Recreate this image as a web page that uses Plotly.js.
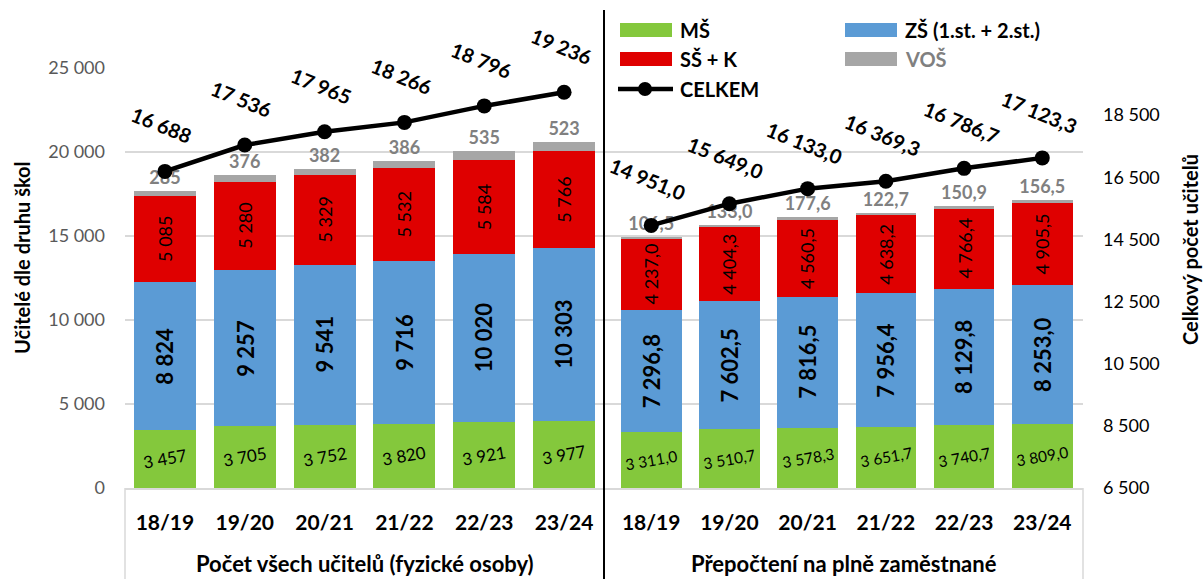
<!DOCTYPE html>
<html><head><meta charset="utf-8">
<script src="https://cdn.plot.ly/plotly-3.0.1.min.js"></script>
<style>html,body{margin:0;padding:0;background:#fff}</style>
</head><body>
<div id="chart" style="width:1203px;height:579px"></div>
<script>
const years = ['18/19','19/20','20/21','21/22','22/23','23/24'];
const groups = ['Počet všech učitelů (fyzické osoby)', 'Přepočtení na plně zaměstnané'];
const seriesNames = ['MŠ', 'ZŠ (1.st. + 2.st.)', 'SŠ + K', 'VOŠ', 'CELKEM'];

const msFyz = [3457, 3705, 3752, 3820, 3921, 3977];
const zsFyz = [8824, 9257, 9541, 9716, 10020, 10303];
const ssFyz = [5085, 5280, 5329, 5532, 5584, 5766];
const vosFyz = [285, 376, 382, 386, 535, 523];
const celkemFyz = [16688, 17536, 17965, 18266, 18796, 19236];

const msPrep = [3311.0, 3510.7, 3578.3, 3651.7, 3740.7, 3809.0];
const zsPrep = [7296.8, 7602.5, 7816.5, 7956.4, 8129.8, 8253.0];
const ssPrep = [4237.0, 4404.3, 4560.5, 4638.2, 4766.4, 4905.5];
const vosPrep = [106.5, 133.0, 177.6, 122.7, 150.9, 156.5];
const celkemPrep = [14951.0, 15649.0, 16133.0, 16369.3, 16786.7, 17123.3];

const rightTicks = [6500, 8500, 10500, 12500, 14500, 16500, 18500];

const FONT = 'Lato, "Open Sans", sans-serif';
const colors = {ms: '#84C83C', zs: '#5B9BD5', ss: '#DF0000', vos: '#A6A6A6', celkem: '#000000'};

function fmt(v, d) {
  const s = v.toFixed(d);
  const parts = s.split('.');
  const ip = parts[0].replace(/\B(?=(\d{3})+(?!\d))/g, ' ');
  return parts.length > 1 ? ip + ',' + parts[1] : ip;
}

const panels = [
  {xa: 'x', dec: 0, ms: msFyz, zs: zsFyz, ss: ssFyz, vos: vosFyz, celkem: celkemFyz, msSize: 17},
  {xa: 'x2', dec: 1, ms: msPrep, zs: zsPrep, ss: ssPrep, vos: vosPrep, celkem: celkemPrep, msSize: 15.5}
];

// Plot-area geometry helpers (pixels -> paper) for legend / decorations
const M = {l: 125, r: 120, t: 68, b: 91};
const W = 1203, H = 579, PW = W - M.l - M.r, PH = H - M.t - M.b;
const px = x => (x - M.l) / PW;
const py = y => (H - M.b - y) / PH;

const traces = [];
const annotations = [];
panels.forEach(p => {
  const bar = (name, vals, color) => ({
    type: 'bar', name: name, x: years, y: vals, xaxis: p.xa, yaxis: 'y',
    marker: {color: color, line: {width: 0}}, hoverinfo: 'skip', showlegend: false
  });
  traces.push(bar(seriesNames[0], p.ms, colors.ms));
  traces.push(bar(seriesNames[1], p.zs, colors.zs));
  traces.push(bar(seriesNames[2], p.ss, colors.ss));
  traces.push(Object.assign(bar(seriesNames[3], p.vos, colors.vos), {
    text: p.vos.map(v => fmt(v, p.dec)), textposition: 'outside', textangle: 0, cliponaxis: false,
    textfont: {family: FONT, color: '#808080', size: 18, weight: 'bold'}
  }));
  // segment value labels at the middle of each stacked segment, rotated like the original
  years.forEach((yr, i) => {
    const ms = p.ms[i], zs = p.zs[i], ss = p.ss[i];
    const lab = (val, mid, angle, font) => annotations.push({
      x: yr, y: mid, xref: p.xa, yref: 'y', text: fmt(val, p.dec), showarrow: false,
      xanchor: 'center', yanchor: 'middle', textangle: angle, font: font
    });
    lab(ms, ms / 2, -10, {family: FONT, size: p.msSize, color: '#000'});
    lab(zs, ms + zs / 2, -90, {family: FONT, size: 22, color: '#000', weight: 'bold'});
    lab(ss, ms + zs + ss / 2, -90, {family: FONT, size: 18, color: '#000'});
  });
});
panels.forEach(p => traces.push({
  type: 'scatter', mode: 'lines+markers', name: seriesNames[4], x: years, y: p.celkem,
  xaxis: p.xa, yaxis: 'y2',
  line: {color: colors.celkem, width: 4.5}, marker: {size: 15, color: colors.celkem},
  cliponaxis: false, hoverinfo: 'skip', showlegend: false
}));

panels.forEach(p => p.celkem.forEach((v, i) => annotations.push({
  x: years[i], y: v, xref: p.xa, yref: 'y2', text: fmt(v, p.dec), showarrow: false,
  xanchor: 'center', yanchor: 'middle', textangle: 22, yshift: 46, xshift: -3,
  font: {family: FONT, size: 20, color: '#000', weight: 'bold'}
})));
// group labels under the year labels
groups.forEach((g, k) => annotations.push({
  xref: 'paper', yref: 'paper', x: 0.25 + 0.5 * k, y: py(563), xanchor: 'center', yanchor: 'middle',
  text: g, showarrow: false, font: {family: FONT, size: 22, color: '#000', weight: 'bold'}
}));
// axis titles
annotations.push({xref: 'paper', yref: 'paper', x: px(22), y: py(258), xanchor: 'center', yanchor: 'middle',
  text: 'Učitelé dle druhu škol', textangle: -90, showarrow: false,
  font: {family: FONT, size: 20, color: '#000', weight: 'bold'}});
annotations.push({xref: 'paper', yref: 'paper', x: px(1190), y: py(250), xanchor: 'center', yanchor: 'middle',
  text: 'Celkový počet učitelů', textangle: -90, showarrow: false,
  font: {family: FONT, size: 20, color: '#000', weight: 'bold'}});

const shapes = [
  {type: 'rect', xref: 'paper', yref: 'paper', x0: px(606), x1: px(1056), y0: py(100), y1: py(8),
   fillcolor: '#fff', line: {width: 0}, layer: 'above'},
  {type: 'line', xref: 'paper', yref: 'paper', x0: 0, x1: 0, y0: py(579), y1: 0,
   line: {color: '#D9D9D9', width: 1.5}, layer: 'above'},
  {type: 'line', xref: 'paper', yref: 'paper', x0: 1, x1: 1, y0: py(579), y1: 0,
   line: {color: '#D9D9D9', width: 1.5}, layer: 'above'},
  {type: 'line', xref: 'paper', yref: 'paper', x0: 0.5, x1: 0.5, y0: py(579), y1: py(10),
   line: {color: '#000', width: 2}, layer: 'above'}
];
const legendItems = [
  {name: seriesNames[0], color: colors.ms, x: 620, y: 30, textColor: '#000'},
  {name: seriesNames[1], color: colors.zs, x: 845, y: 30, textColor: '#000'},
  {name: seriesNames[2], color: colors.ss, x: 620, y: 59, textColor: '#000'},
  {name: seriesNames[3], color: colors.vos, x: 845, y: 59, textColor: '#808080'}
];
legendItems.forEach(it => {
  shapes.push({type: 'rect', xref: 'paper', yref: 'paper', x0: px(it.x), x1: px(it.x + 52),
    y0: py(it.y + 7), y1: py(it.y - 7), fillcolor: it.color, line: {width: 0}, layer: 'above'});
  annotations.push({xref: 'paper', yref: 'paper', x: px(it.x + 58), y: py(it.y), xanchor: 'left',
    yanchor: 'middle', text: it.name, showarrow: false,
    font: {family: FONT, size: 20, color: it.textColor, weight: 'bold'}});
});
shapes.push({type: 'line', xref: 'paper', yref: 'paper', x0: px(618), x1: px(673), y0: py(89), y1: py(89),
  line: {color: '#000', width: 4.5}, layer: 'above'});
shapes.push({type: 'circle', xref: 'paper', yref: 'paper', x0: px(638), x1: px(652), y0: py(96), y1: py(82),
  fillcolor: '#000', line: {width: 0}, layer: 'above'});
annotations.push({xref: 'paper', yref: 'paper', x: px(678), y: py(89), xanchor: 'left', yanchor: 'middle',
  text: seriesNames[4], showarrow: false, font: {family: FONT, size: 20, color: '#000', weight: 'bold'}});

const xCommon = {
  type: 'category', categoryorder: 'array', categoryarray: years, anchor: 'y',
  showline: true, linecolor: '#D9D9D9', linewidth: 2, showgrid: false, ticks: '',
  ticklabelstandoff: 15, tickfont: {family: FONT, size: 21, color: '#000', weight: 'bold'}
};
const layout = {
  width: W, height: H, margin: M, paper_bgcolor: '#fff', plot_bgcolor: '#fff',
  separators: ', ', barmode: 'stack', bargap: 0.225, showlegend: false,
  font: {family: FONT},
  xaxis: Object.assign({domain: [0, 0.5]}, xCommon),
  xaxis2: Object.assign({domain: [0.5, 1]}, xCommon),
  yaxis: {
    anchor: 'x', range: [0, 25000], dtick: 5000, tickformat: ',d', showgrid: true, gridcolor: '#D9D9D9', gridwidth: 1.5,
    zeroline: false, ticks: '', ticklabelstandoff: 19,
    tickfont: {family: FONT, size: 18, color: '#595959'}
  },
  yaxis2: {
    overlaying: 'y', anchor: 'x2', side: 'right', range: [6500, 20016], tickvals: rightTicks, tickformat: ',d',
    showgrid: false, zeroline: false, ticks: '', ticklabelstandoff: 19,
    tickfont: {family: FONT, size: 18, color: '#000'}
  },
  annotations: annotations, shapes: shapes
};

Plotly.newPlot('chart', traces, layout, {staticPlot: true, displayModeBar: false});
</script>
</body></html>
